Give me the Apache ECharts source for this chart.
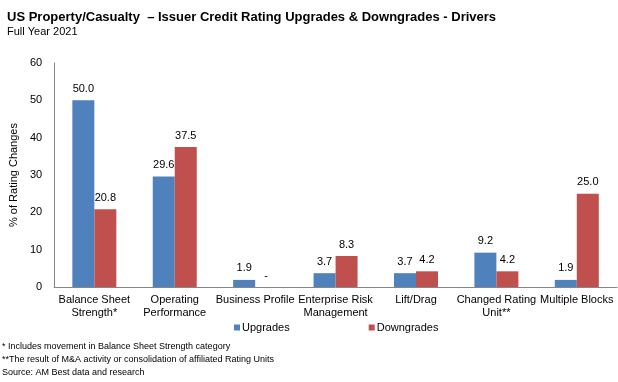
<!DOCTYPE html>
<html>
<head>
<meta charset="utf-8">
<script src="https://cdn.jsdelivr.net/npm/echarts@6/dist/echarts.min.js"></script>
<style>
html,body{margin:0;padding:0;background:#fff;}
#c{width:618px;height:382px;}
</style>
</head>
<body>
<div id="c"></div>
<script>
const categories = ["Balance Sheet\nStrength*", "Operating\nPerformance", "Business Profile", "Enterprise Risk\nManagement", "Lift/Drag", "Changed Rating\nUnit**", "Multiple Blocks"];
const upgrades = [50.0, 29.6, 1.9, 3.7, 3.7, 9.2, 1.9];
const downgrades = [20.8, 37.5, 0, 8.3, 4.2, 4.2, 25.0];
const yTicks = [0, 10, 20, 30, 40, 50, 60];
const footnotes = [
  "* Includes movement in Balance Sheet Strength category",
  "**The result of M&A activity or consolidation of affiliated Rating Units",
  "Source: AM Best data and research"
];

const FONT = "Arial, 'Liberation Sans', sans-serif";
const chart = echarts.init(document.getElementById('c'), null, {renderer: 'canvas'});
const labelFmt = p => p.value === 0 ? '-' : p.value.toFixed(1);

chart.setOption({
  animation: false,
  textStyle: {fontFamily: FONT},
  title: [
    {text: "US Property/Casualty  \u2013 Issuer Credit Rating Upgrades & Downgrades - Drivers", left: 2, top: 6,
     textStyle: {fontFamily: FONT, fontSize: 13, fontWeight: 'bold', color: '#000'}},
    {text: "Full Year 2021", left: 2, top: 21, textStyle: {fontFamily: FONT, fontSize: 11, fontWeight: 'normal', color: '#000'}}
  ],
  graphic: footnotes.map((t, i) => ({
    type: 'text', left: 2, top: 342 + i * 13,
    style: {text: t, font: "9px " + FONT, fill: '#000'}
  })),
  legend: {
    data: ['Upgrades', 'Downgrades'], left: 229, top: 317, itemGap: 79,
    icon: 'rect', itemWidth: 6, itemHeight: 6,
    textStyle: {fontFamily: FONT, fontSize: 11, color: '#000', padding: [0, 0, 0, -3]}
  },
  grid: {left: 39, right: 1, top: 63, bottom: 95, containLabel: false},
  xAxis: {
    type: 'category', data: categories,
    axisLine: {lineStyle: {color: '#868686'}},
    axisTick: {show: false},
    axisLabel: {interval: 0, color: '#000', fontSize: 11, fontFamily: FONT, lineHeight: 13, margin: 6}
  },
  yAxis: {
    type: 'value', min: 0, max: 60, interval: 10,
    name: '% of Rating Changes', nameLocation: 'middle', nameGap: 27, nameRotate: 90,
    nameTextStyle: {fontSize: 11, color: '#000', fontFamily: FONT},
    axisLine: {show: true, lineStyle: {color: '#868686'}},
    axisTick: {show: false},
    splitLine: {show: false},
    axisLabel: {color: '#000', fontSize: 11, fontFamily: FONT, margin: 12,
      formatter: v => yTicks.includes(v) ? String(v) : ''}
  },
  series: [
    {name: 'Upgrades', type: 'bar', data: upgrades, barWidth: 22, barGap: '0%',
     itemStyle: {color: '#4F81BD'},
     label: {show: true, position: 'top', distance: 6, color: '#000', fontSize: 11, fontFamily: FONT, formatter: labelFmt}},
    {name: 'Downgrades', type: 'bar', data: downgrades, barWidth: 22,
     itemStyle: {color: '#C0504D'},
     label: {show: true, position: 'top', distance: 6, color: '#000', fontSize: 11, fontFamily: FONT, formatter: labelFmt}}
  ]
});
</script>
</body>
</html>
